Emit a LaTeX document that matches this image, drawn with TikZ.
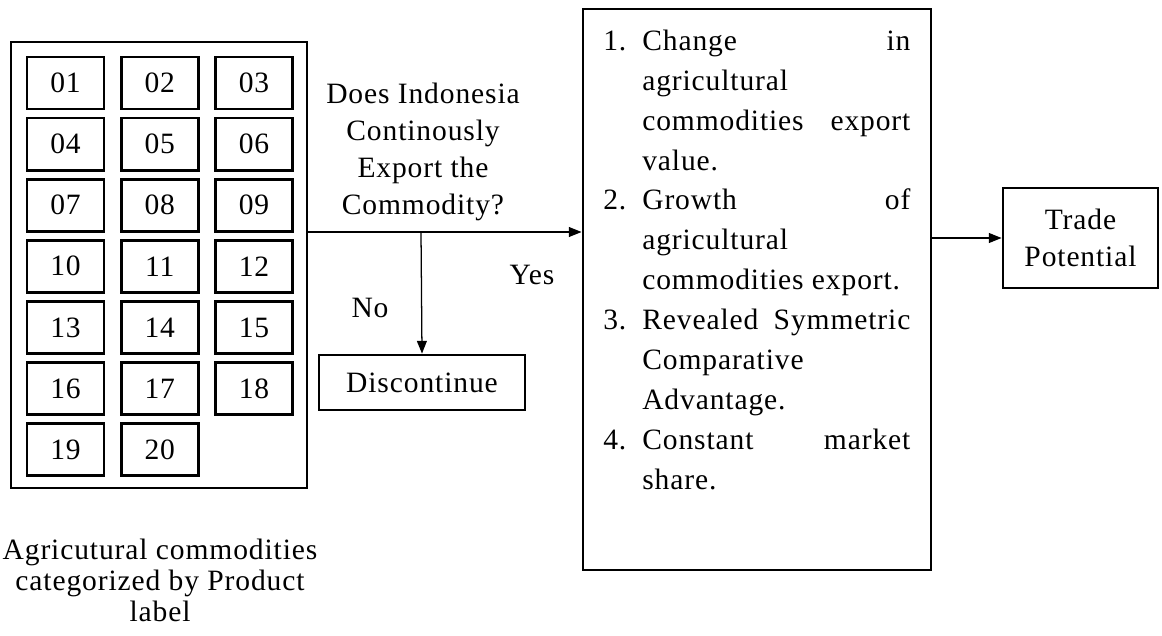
\documentclass[tikz,border=0pt]{standalone}
\usepackage{fontspec}
\setmainfont{Liberation Serif}[LetterSpace=3]
\usetikzlibrary{arrows.meta}
\tikzset{>={Triangle[length=9pt, width=7pt]}}

\begin{document}
\begin{tikzpicture}[x = 0.025cm, y = -0.025cm, font = {\fontsize{21pt}{26.5pt}\selectfont},
	box/.style = {draw, line width = 2pt, inner sep = 0pt},
	cell/.style = {box, minimum width = 1.925cm, minimum height = 1.3cm},
	link/.style = {->, line width = 0.9pt}]
\useasboundingbox (0,0) rectangle (1162,636);

\node[box, minimum width = 7.4cm, minimum height = 11.15cm] (GRP) at (159, 265) {};

\foreach \n [count = \i from 0] in {01,02,03,04,05,06,07,08,09,10,11,12,13,14,15,16,17,18,19,20}
	\node[cell] (C\n) at ({65.5 + 94.25*mod(\i,3)}, {83 + 61.1*int(\i/3)}) {\n};

\node[align = center, font = {\fontsize{21pt}{22pt}\selectfont}] (CAP) at (160, 580) {Agricutural commodities \\ categorized by Product \\ label};

\node[align = center] (ASK) at (423, 152) {Does Indonesia \\ Continously \\ Export the \\ Commodity?};

\node[box, minimum width = 5.15cm, minimum height = 1.375cm] (STOP) at (422, 382.5) {Discontinue};

\node[box, minimum width = 8.7cm, minimum height = 14.025cm] (CRIT) at (757, 289.5) {};

\node[anchor = north west, inner sep = 0pt, font = {\fontsize{21pt}{28.4pt}\selectfont}] (LIST) at (603, 22) {%
\begin{tabular}{@{}p{0.975cm}@{}p{6.7cm}@{}}
1. & Change \hfill in \\
   & agricultural \\
   & commodities \hfill export \\
   & value. \\
2. & Growth \hfill of \\
   & agricultural \\
   & commodities export. \\
3. & Revealed \hfill Symmetric \\
   & Comparative \\
   & Advantage. \\
4. & Constant \hfill market \\
   & share.
\end{tabular}};

\node[box, minimum width = 3.875cm, minimum height = 2.5cm, align = center] (TRADE) at (1080.5, 238) {Trade \\ Potential};

\coordinate (FORK) at (421, 232);

\draw[link] (GRP.east |- FORK) -- (CRIT.west |- FORK);
\draw[link] (FORK) -- (STOP.north);
\draw[link] (CRIT.east |- TRADE) -- (TRADE.west);

\node (YES) at (532, 275) {Yes};
\node (NO) at (370, 308) {No};
\end{tikzpicture}
\end{document}
